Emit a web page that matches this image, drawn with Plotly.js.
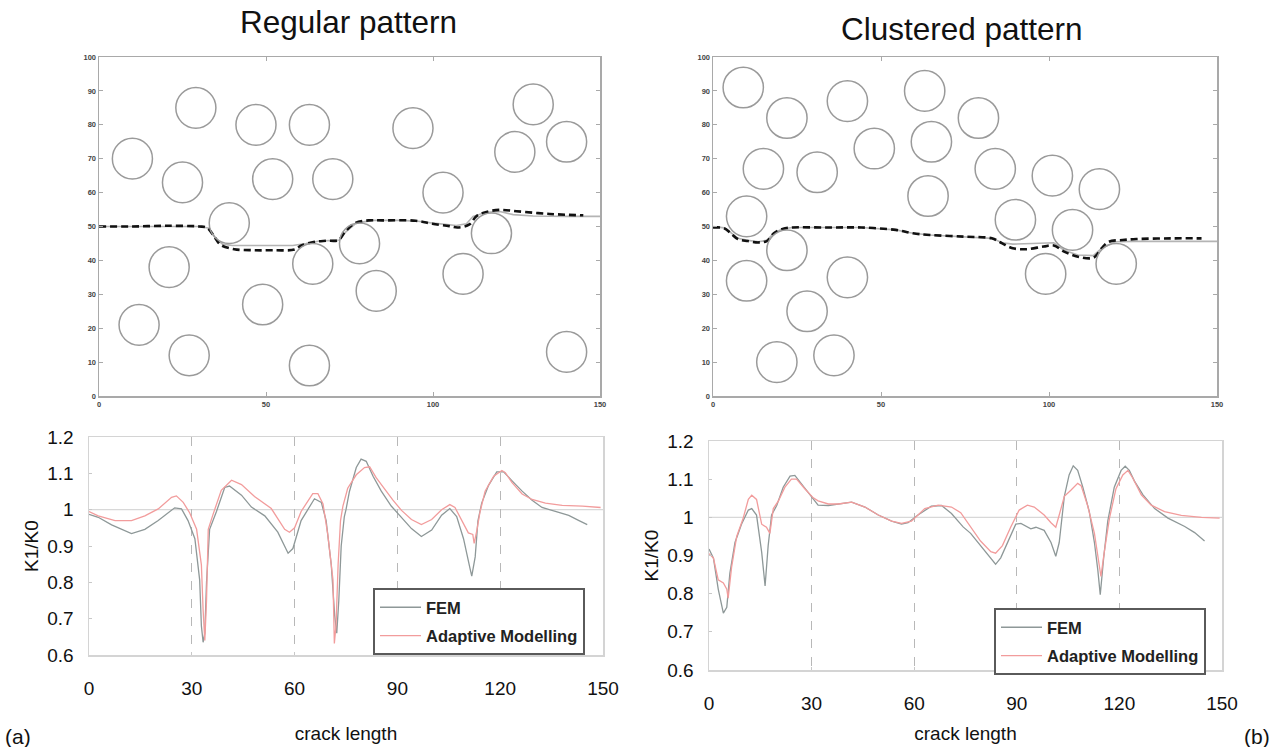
<!DOCTYPE html>
<html>
<head>
<meta charset="utf-8">
<script src="https://cdn.plot.ly/plotly-3.0.1.min.js"></script>
<style>html,body{margin:0;padding:0;background:#fff;}#chart{width:1274px;height:747px;}</style>
</head>
<body>
<div id="chart"></div>
<script>
// ---------- Data ----------
const circleRadius = 6;

// Regular pattern: inclusion centres
const regCircleX = [10, 29, 47, 63, 94, 130, 140, 124.5, 25, 52, 70, 103, 39, 117.5, 78, 64, 21, 109, 83, 49, 12, 27, 63, 140];
const regCircleY = [70, 85, 80, 80, 79, 86, 75, 72, 63, 64, 64, 60, 51, 48, 45, 39, 38, 36, 31, 27, 21, 12, 9, 13];

// Clustered pattern: inclusion centres
const cluCircleX = [9, 22, 40, 63, 79, 48, 65, 15, 31, 84, 101, 115, 64, 10, 90, 107, 22, 120, 99, 10, 40, 28, 36, 19];
const cluCircleY = [91, 82, 87, 90, 82, 73, 75, 67, 66, 67, 65, 61, 59, 53, 52, 49, 43, 39, 36, 34, 35, 25, 12, 10];

// Crack paths (regular pattern)
const regCrackSolidX = [0, 10, 20, 30, 33, 35, 37, 40, 50, 58, 62, 66, 72, 74, 77, 82, 90, 95, 100, 104, 107, 110, 112, 116, 120, 124, 130, 140, 150];
const regCrackSolidY = [50, 50, 50, 50, 49.5, 46.5, 44.8, 44.4, 44.4, 44.4, 45, 45.7, 46, 48.5, 51, 51.8, 51.8, 51.6, 51, 50.5, 50.3, 50.8, 53, 54.2, 54.4, 53.5, 53.1, 53, 53];
const regCrackDashX = [0, 10, 20, 30, 32.4, 34.5, 36.4, 40.5, 46.5, 52, 58.6, 60.6, 64.6, 68, 71.7, 73.7, 76.7, 80.7, 84.8, 94.8, 99.8, 104.9, 107.4, 110.9, 113, 116, 120, 125, 135, 145];
const regCrackDashY = [50, 50, 50.2, 50, 49.6, 47, 44.6, 43.3, 43, 43, 43.2, 44.4, 45.5, 45.8, 46, 48.5, 51, 51.8, 51.8, 51.7, 50.8, 50.1, 49.7, 50.6, 53, 54.3, 54.9, 54.5, 53.7, 53.3];

// Crack paths (clustered pattern)
const cluCrackSolidX = [0, 3.3, 5.3, 7.4, 10.4, 13.5, 16, 18.1, 20.7, 23.7, 33.9, 44.2, 54.4, 59.5, 64.6, 74.8, 83, 86.1, 89.2, 95, 101.4, 104.5, 108.6, 113.2, 115.7, 119.8, 126, 150];
const cluCrackSolidY = [50, 49.6, 48.2, 46.5, 45.9, 45.5, 45.9, 48, 49.3, 49.7, 49.7, 49.7, 49, 48, 47.5, 47, 46.5, 45.2, 44.8, 45, 45.2, 43, 41.6, 41.4, 43.6, 45.5, 45.6, 45.6];
const cluCrackDashX = [0, 3.3, 5.3, 7.4, 10.4, 13.5, 16, 18.1, 20.7, 23.7, 33.9, 44.2, 54.4, 59.5, 64.6, 74.8, 83, 86.1, 89.2, 93.3, 98.4, 101.4, 104.5, 108.6, 113.2, 115.7, 117.8, 121.9, 126, 136.2, 145.4];
const cluCrackDashY = [49.7, 49.5, 48, 46.3, 45.7, 45.3, 45.7, 48, 49.3, 49.7, 49.7, 49.7, 49, 48, 47.5, 47, 46.5, 45, 43.6, 43.3, 44.1, 44.4, 42.6, 41.1, 40.8, 43.6, 45.5, 46, 46.3, 46.5, 46.5];

// K1/K0 along crack length (regular pattern)
const regFemX = [0, 2.7, 6.6, 12.4, 16.3, 20.2, 25, 27, 28.9, 30.9, 32.3, 32.8, 33.3, 33.8, 34.3, 35.2, 37.2, 39.6, 41, 44.5, 47.4, 51.3, 55.1, 58.1, 59.5, 61.9, 65.8, 67.8, 69.2, 70.7, 71.7, 72.3, 72.9, 73.6, 74.5, 75, 76, 78, 79.4, 80.9, 82.9, 85.3, 88.2, 90.7, 94.1, 97, 100, 102.9, 105.3, 107.3, 109.3, 111.2, 111.7, 112.7, 113.5, 114.6, 116.6, 119, 121, 123.4, 126.4, 129.3, 132.2, 136.1, 140, 143, 145.4];
const regFemY = [0.987, 0.979, 0.958, 0.934, 0.946, 0.97, 1.005, 1.002, 0.97, 0.92, 0.806, 0.68, 0.635, 0.66, 0.8, 0.946, 0.995, 1.061, 1.065, 1.04, 1.007, 0.983, 0.938, 0.88, 0.893, 0.97, 1.03, 1.02, 0.97, 0.848, 0.708, 0.66, 0.75, 0.9, 0.98, 1.0, 1.05, 1.116, 1.139, 1.133, 1.092, 1.051, 1.01, 0.985, 0.948, 0.926, 0.944, 0.985, 1.003, 0.981, 0.92, 0.838, 0.817, 0.87, 0.969, 1.018, 1.067, 1.104, 1.104, 1.08, 1.051, 1.026, 1.006, 0.995, 0.984, 0.97, 0.959];
const regAdaptX = [0, 2.7, 7.6, 12.4, 16.3, 20.2, 24.1, 25.5, 27.5, 29.4, 31.4, 32.8, 33.3, 33.8, 34.3, 34.8, 36.2, 38.6, 41.6, 44.5, 48.3, 53.2, 57.1, 58.5, 60, 61.9, 65.3, 66.8, 68.3, 69.7, 71.2, 71.6, 72.1, 72.7, 73.4, 74.1, 75.5, 78, 80.4, 81.9, 83.8, 86.3, 88.7, 91.2, 94.1, 97, 100, 102.9, 105.3, 106.8, 108.8, 110.7, 112, 112.4, 113.2, 114.1, 115.6, 118.1, 120.5, 121.5, 123.4, 126.4, 129.3, 133.2, 138.1, 144, 149.3];
const regAdaptY = [0.995, 0.983, 0.97, 0.97, 0.983, 1.002, 1.034, 1.038, 1.02, 0.991, 0.946, 0.848, 0.724, 0.64, 0.75, 0.946, 0.987, 1.053, 1.081, 1.069, 1.036, 1.003, 0.946, 0.938, 0.95, 0.995, 1.044, 1.044, 1.016, 0.93, 0.807, 0.632, 0.683, 0.85, 0.97, 1.01, 1.059, 1.096, 1.116, 1.118, 1.088, 1.055, 1.026, 0.998, 0.973, 0.959, 0.973, 1.0, 1.014, 1.006, 0.969, 0.936, 0.932, 0.907, 0.944, 0.993, 1.051, 1.092, 1.108, 1.102, 1.075, 1.043, 1.028, 1.018, 1.012, 1.01, 1.006];

// K1/K0 along crack length (clustered pattern)
const cluFemX = [0, 1.3, 2.7, 4.2, 5.2, 6.1, 7.6, 9.5, 11.5, 12.5, 13.9, 15.4, 16.4, 17.3, 18.3, 19.8, 21.7, 23.7, 25.1, 27.1, 30, 31.9, 34.9, 37.8, 41.7, 45.6, 49.5, 53.4, 56.3, 58.2, 61.1, 65, 68, 70.9, 74.3, 76.5, 79.4, 82.4, 83.8, 85.3, 87.8, 89.7, 91.2, 93.1, 94.1, 95.6, 98, 100, 101.4, 102.4, 103.9, 105.3, 106.5, 107.8, 109.3, 111.2, 112.7, 113.7, 114.4, 115.4, 116.6, 118.5, 120.5, 121.7, 122.9, 124.4, 126.9, 130.3, 134.2, 139.1, 142, 144.9];
const cluFemY = [0.917, 0.893, 0.812, 0.749, 0.764, 0.853, 0.934, 0.982, 1.019, 1.023, 1.006, 0.909, 0.82, 0.926, 1.006, 1.031, 1.079, 1.108, 1.11, 1.087, 1.055, 1.032, 1.031, 1.035, 1.04, 1.027, 1.006, 0.99, 0.982, 0.986, 1.006, 1.029, 1.031, 1.01, 0.975, 0.958, 0.926, 0.894, 0.877, 0.894, 0.942, 0.982, 0.984, 0.974, 0.97, 0.974, 0.966, 0.934, 0.898, 0.934, 1.055, 1.111, 1.135, 1.123, 1.079, 1.015, 0.934, 0.861, 0.797, 0.894, 0.99, 1.079, 1.123, 1.134, 1.123, 1.095, 1.059, 1.023, 0.998, 0.976, 0.96, 0.938];
const cluAdaptX = [0, 1.3, 2.7, 4.2, 5.2, 5.6, 6.6, 8.1, 10, 11.5, 12.5, 13.9, 15.4, 16.8, 17.8, 18.8, 20.3, 22.2, 24.1, 25.6, 28, 30.5, 31.9, 34.9, 37.8, 41.7, 45.6, 49.5, 53.4, 56.3, 59.2, 63.1, 67, 70.9, 73.6, 76.5, 79.4, 82.4, 83.8, 85.8, 88.2, 90.7, 93.1, 95.1, 98, 100, 101.4, 102.4, 103.9, 105.8, 107.8, 108.8, 110.7, 112.7, 113.9, 114.6, 115.6, 117.1, 119, 121, 122.5, 123.9, 126.4, 129.3, 133.2, 138.1, 144, 149.3];
const cluAdaptY = [0.905, 0.893, 0.836, 0.828, 0.812, 0.788, 0.869, 0.95, 0.998, 1.047, 1.058, 1.047, 0.982, 0.974, 0.958, 1.023, 1.043, 1.079, 1.1, 1.1, 1.075, 1.051, 1.043, 1.035, 1.035, 1.04, 1.027, 1.006, 0.99, 0.984, 0.99, 1.023, 1.032, 1.027, 1.012, 0.974, 0.938, 0.91, 0.906, 0.926, 0.974, 1.019, 1.032, 1.027, 1.006, 0.986, 0.974, 1.006, 1.055, 1.071, 1.089, 1.083, 1.031, 0.958, 0.894, 0.845, 0.91, 0.998, 1.075, 1.111, 1.123, 1.103, 1.059, 1.032, 1.015, 1.005, 1.0, 0.998];

const seriesNames = ['FEM', 'Adaptive Modelling'];
const panelTitles = ['Regular pattern', 'Clustered pattern'];
const panelLabels = ['(a)', '(b)'];
const kTicks = [0, 30, 60, 90, 120, 150];

// ---------- Styles ----------
const FONT = 'Liberation Sans, Arial, Helvetica, sans-serif';
const femColor = '#8e9898';
const adaptColor = '#f29c9c';
const circleColor = '#9a9a9a';

function circleShapes(xs, ys, xref, yref) {
  return xs.map((cx, i) => ({
    type: 'circle', xref: xref, yref: yref,
    x0: cx - circleRadius, x1: cx + circleRadius,
    y0: ys[i] - circleRadius, y1: ys[i] + circleRadius,
    line: {color: circleColor, width: 1.5}
  }));
}

const traces = [
  {x: regCrackSolidX, y: regCrackSolidY, xaxis: 'x', yaxis: 'y', mode: 'lines', line: {color: '#b4b4b4', width: 1.6}, showlegend: false, hoverinfo: 'skip'},
  {x: regCrackDashX, y: regCrackDashY, xaxis: 'x', yaxis: 'y', mode: 'lines', line: {color: '#111', width: 2.6, dash: '7px,4px', shape: 'spline'}, showlegend: false, hoverinfo: 'skip'},
  {x: cluCrackSolidX, y: cluCrackSolidY, xaxis: 'x2', yaxis: 'y2', mode: 'lines', line: {color: '#b4b4b4', width: 1.6}, showlegend: false, hoverinfo: 'skip'},
  {x: cluCrackDashX, y: cluCrackDashY, xaxis: 'x2', yaxis: 'y2', mode: 'lines', line: {color: '#111', width: 2.6, dash: '7px,4px', shape: 'spline'}, showlegend: false, hoverinfo: 'skip'},
  {x: regFemX, y: regFemY, xaxis: 'x3', yaxis: 'y3', mode: 'lines', name: seriesNames[0], legend: 'legend', legendgroup: 'a1', line: {color: femColor, width: 1.3}},
  {x: regAdaptX, y: regAdaptY, xaxis: 'x3', yaxis: 'y3', mode: 'lines', name: seriesNames[1], legend: 'legend', legendgroup: 'a2', line: {color: adaptColor, width: 1.3}},
  {x: cluFemX, y: cluFemY, xaxis: 'x4', yaxis: 'y4', mode: 'lines', name: seriesNames[0], legend: 'legend2', legendgroup: 'b1', line: {color: femColor, width: 1.3}},
  {x: cluAdaptX, y: cluAdaptY, xaxis: 'x4', yaxis: 'y4', mode: 'lines', name: seriesNames[1], legend: 'legend2', legendgroup: 'b2', line: {color: adaptColor, width: 1.3}}
];

const W = 1274, H = 747;
const px = v => v / W;
const py = v => 1 - v / H;

function topX(d0, d1, anchor) {
  return {domain: [px(d0), px(d1)], anchor: anchor, range: [0, 150], tickvals: [0, 50, 100, 150],
    showgrid: false, zeroline: false, showline: true, mirror: 'ticks', linecolor: '#a9a9a9', linewidth: 1.5,
    ticks: 'inside', ticklen: 4, tickcolor: '#a9a9a9', tickwidth: 1,
    tickfont: {family: FONT, size: 7.5, color: '#444', weight: 'bold'}, fixedrange: true};
}
function topY(anchor) {
  return {domain: [py(396), py(57)], anchor: anchor, range: [0, 100], dtick: 10,
    showgrid: false, zeroline: false, showline: true, mirror: 'ticks', linecolor: '#a9a9a9', linewidth: 1.5,
    ticks: 'inside', ticklen: 4, tickcolor: '#a9a9a9', tickwidth: 1,
    tickfont: {family: FONT, size: 7.5, color: '#444', weight: 'bold'}, fixedrange: true};
}
function botX(d0, d1, anchor, titleStandoff) {
  return {domain: [px(d0), px(d1)], anchor: anchor, range: [0, 150], tickvals: kTicks,
    showgrid: true, gridcolor: '#b8b8b8', griddash: 'dash', gridwidth: 1,
    zeroline: false, showline: true, mirror: true, linecolor: '#d4d4d4', linewidth: 1.5,
    ticks: 'inside', ticklen: 3, tickcolor: '#c8c8c8', ticklabelstandoff: 16,
    tickfont: {family: FONT, size: 19, color: '#111'},
    title: {text: 'crack length', font: {family: FONT, size: 19, color: '#111'}, standoff: titleStandoff},
    fixedrange: true};
}
function botY(d0, d1, anchor) {
  return {domain: [py(d1), py(d0)], anchor: anchor, range: [0.6, 1.2], dtick: 0.1,
    showgrid: false, zeroline: false, showline: true, mirror: true, linecolor: '#d4d4d4', linewidth: 1.5,
    ticks: 'inside', ticklen: 3, tickcolor: '#c8c8c8', ticklabelstandoff: 10,
    tickfont: {family: FONT, size: 19, color: '#111'},
    title: {text: 'K1/K0', font: {family: FONT, size: 19, color: '#111'}, standoff: 3},
    fixedrange: true};
}

const refLine = (xref, yref) => ({type: 'line', xref: xref + ' domain', yref: yref, x0: 0, x1: 1, y0: 1, y1: 1,
  line: {color: '#d8d8d8', width: 1.2}, layer: 'below'});

const legendStyle = (xPx, yPx) => ({x: px(xPx), y: py(yPx), xanchor: 'left', yanchor: 'top',
  bgcolor: '#fff', bordercolor: '#5a5a5a', borderwidth: 2,
  font: {family: FONT, size: 16.5, color: '#222', weight: 'bold'}, tracegroupgap: 4, itemwidth: 41});

const layout = {
  width: W, height: H,
  margin: {l: 0, r: 0, t: 0, b: 0},
  paper_bgcolor: '#fff', plot_bgcolor: '#fff',
  showlegend: true,
  font: {family: FONT},
  xaxis: topX(99, 600, 'y'),
  yaxis: topY('x'),
  xaxis2: topX(713, 1217, 'y2'),
  yaxis2: topY('x2'),
  xaxis3: botX(89, 603, 'y3', 28),
  yaxis3: botY(437, 655, 'x3'),
  xaxis4: botX(709, 1222, 'y4', 13),
  yaxis4: botY(441, 670, 'x4'),
  legend: legendStyle(373, 588),
  legend2: legendStyle(994, 608),
  shapes: [].concat(
    circleShapes(regCircleX, regCircleY, 'x', 'y'),
    circleShapes(cluCircleX, cluCircleY, 'x2', 'y2'),
    [refLine('x3', 'y3'), refLine('x4', 'y4')]
  ),
  annotations: [
    {text: panelTitles[0], xref: 'paper', yref: 'paper', x: px(348), y: py(22), xanchor: 'center', yanchor: 'middle', showarrow: false, font: {family: FONT, size: 31.5, color: '#111'}},
    {text: panelTitles[1], xref: 'paper', yref: 'paper', x: px(962), y: py(29), xanchor: 'center', yanchor: 'middle', showarrow: false, font: {family: FONT, size: 31.5, color: '#111'}},
    {text: panelLabels[0], xref: 'paper', yref: 'paper', x: px(3), y: py(736), xanchor: 'left', yanchor: 'middle', showarrow: false, font: {family: FONT, size: 21, color: '#111'}},
    {text: panelLabels[1], xref: 'paper', yref: 'paper', x: px(1272), y: py(736), xanchor: 'right', yanchor: 'middle', showarrow: false, font: {family: FONT, size: 21, color: '#111'}}
  ]
};

Plotly.newPlot('chart', traces, layout, {displayModeBar: false, staticPlot: true});
</script>
</body>
</html>
